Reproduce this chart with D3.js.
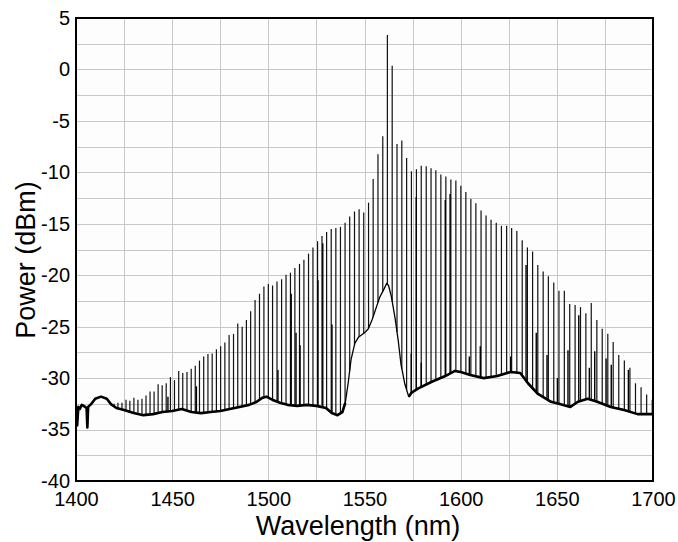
<!DOCTYPE html>
<html>
<head>
<meta charset="utf-8">
<script src="https://cdn.jsdelivr.net/npm/d3@7/dist/d3.min.js"></script>
<style>
    body { margin: 0; background: #ffffff; }
    text { font-family: Arial, "Liberation Sans", sans-serif; fill: #000; }
</style>
</head>
<body>
<div id="visualization"></div>
<script>

// Tick labels
const xTicks = [1400, 1450, 1500, 1550, 1600, 1650, 1700];
const yTicks = [-40, -35, -30, -25, -20, -15, -10, -5, 0, 5];

// Noise floor of the spectrum (nm, dBm)
const floorWl = [1400, 1400.6, 1401.2, 1402, 1403, 1404, 1405.5, 1405.9, 1406.3, 1408, 1410, 1413,
    1416, 1418, 1421, 1425, 1430, 1435, 1440, 1445, 1450, 1455, 1460, 1465, 1470, 1475,
    1480, 1485, 1490, 1494, 1497, 1499, 1502, 1506, 1510, 1515, 1520, 1525, 1530, 1533,
    1536, 1538.5, 1540, 1541.5, 1543, 1545, 1547, 1550, 1552, 1554, 1556, 1558, 1560,
    1561.5, 1562.5, 1564, 1566, 1567.5, 1569, 1571, 1573, 1574.5, 1578, 1585, 1592, 1597,
    1600, 1605, 1612, 1619, 1626, 1631, 1635, 1640, 1647, 1652, 1657, 1661, 1666, 1671,
    1678, 1685, 1692, 1700];
const floorDbm = [-33.2, -34.6, -32.8, -33.0, -32.6, -32.7, -32.9, -34.8, -32.8, -32.5, -32.0, -31.8,
    -32.0, -32.5, -32.9, -33.1, -33.4, -33.6, -33.5, -33.3, -33.2, -33.0, -33.3, -33.4, -33.3, -33.2,
    -33.0, -32.8, -32.6, -32.3, -31.9, -31.8, -32.1, -32.4, -32.6, -32.7, -32.6, -32.7, -32.9, -33.4,
    -33.6, -33.3, -32.4, -30.5, -28.2, -26.6, -26.0, -25.6, -25.2, -24.3, -23.2, -22.1, -21.4,
    -20.8, -21.0, -22.1, -24.3, -26.3, -28.7, -30.6, -31.8, -31.4, -31.0, -30.35, -29.8, -29.3,
    -29.4, -29.7, -30.0, -29.8, -29.4, -29.5, -30.5, -31.5, -32.3, -32.55, -32.8, -32.3, -32.0, -32.3,
    -32.8, -33.1, -33.5, -33.5];

// Comb lines: wavelength (nm) and peak power (dBm)
const combWl = [1417.7, 1419.8, 1421.8, 1423.9, 1426.0, 1428.0, 1430.1, 1432.2, 1434.3, 1436.4,
    1438.5, 1440.6, 1442.7, 1444.8, 1446.9, 1449.1, 1451.2, 1453.4, 1455.5, 1457.7,
    1459.9, 1462.0, 1464.2, 1466.4, 1468.6, 1470.8, 1473.0, 1475.2, 1477.4, 1479.6,
    1481.9, 1484.1, 1486.4, 1488.6, 1490.8, 1493.1, 1495.4, 1497.7, 1500.0, 1502.2,
    1504.5, 1506.9, 1509.2, 1511.5, 1513.8, 1516.2, 1518.5, 1520.9, 1523.2, 1525.6,
    1527.9, 1530.3, 1532.7, 1535.1, 1537.5, 1539.9, 1542.3, 1544.8, 1547.2, 1549.6,
    1552.1, 1554.5, 1557.0, 1559.5, 1561.9, 1564.4, 1566.9, 1569.4, 1571.9, 1574.4,
    1577.0, 1579.5, 1582.1, 1584.6, 1587.1, 1589.7, 1592.3, 1594.9, 1597.5, 1600.1,
    1602.7, 1605.3, 1607.9, 1610.6, 1613.2, 1615.8, 1618.5, 1621.2, 1623.9, 1626.5,
    1629.2, 1632.0, 1634.7, 1637.4, 1640.1, 1642.9, 1645.6, 1648.4, 1651.1, 1653.9,
    1656.7, 1659.5, 1662.3, 1665.1, 1667.9, 1670.8, 1673.6, 1676.5, 1679.3, 1682.2,
    1685.1, 1688.0, 1690.9, 1693.8, 1696.7, 1699.6];
const combPeak = [-32.3, -32.5, -32.4, -32.4, -32.1, -32.2, -31.9, -32.1, -32.0, -31.7,
    -31.3, -31.3, -30.6, -30.7, -30.5, -29.9, -30.2, -29.3, -29.5, -29.4,
    -29.1, -28.8, -28.3, -27.9, -27.65, -27.6, -27.2, -26.9, -26.55, -25.8,
    -25.7, -24.7, -25.0, -24.35, -23.5, -22.4, -21.8, -21.1, -20.85, -21.0,
    -20.6, -20.4, -19.95, -19.75, -19.3, -18.9, -18.5, -17.9, -17.3, -16.7,
    -16.2, -15.8, -15.5, -15.4, -15.3, -14.9, -14.3, -13.8, -13.6, -13.9,
    -12.95, -10.65, -8.25, -6.5, 3.35, 0.37, -7.25, -6.9, -8.6, -9.9,
    -9.7, -9.35, -9.4, -9.6, -9.8, -10.2, -10.4, -10.7, -10.8, -11.3,
    -11.9, -12.6, -13.0, -13.7, -14.2, -14.6, -14.9, -15.2, -15.2, -15.4,
    -15.7, -16.6, -17.3, -17.7, -19.0, -19.65, -20.1, -20.7, -21.5, -21.5,
    -22.8, -22.9, -23.1, -23.7, -22.7, -24.35, -25.2, -25.7, -26.5, -27.75,
    -28.3, -29.0, -30.5, -30.9, -31.6, -32.1];

// Weaker side lines next to some comb lines
const sideWl = [1447.8, 1462.6, 1505.0, 1511.9, 1514.4, 1516.5, 1525.8, 1528.3, 1533.1, 1574.3,
    1576.9, 1579.5, 1592.0, 1594.5, 1604.5, 1610.2, 1626.0, 1634.0, 1639.3, 1644.9,
    1650.3, 1655.8, 1661.4, 1666.9, 1669.7, 1675.6, 1678.3, 1687.2];
const sidePeak = [-31.8, -30.8, -29.2, -21.8, -25.6, -26.8, -20.5, -16.9, -24.8, -27.6,
    -12.4, -28.5, -12.7, -12.1, -27.9, -26.9, -27.9, -19.0, -25.6, -27.75,
    -30.0, -27.3, -23.9, -29.0, -27.4, -28.1, -28.7, -29.2];


const width = 678;
const height = 542;
const plotLeft = 76, plotRight = 653, plotTop = 18, plotBottom = 481;

const svg = d3.select("#visualization")
    .append("svg")
    .attr("width", width)
    .attr("height", height);

const xScale = d3.scaleLinear().domain([1400, 1700]).range([plotLeft, plotRight]);
const yScale = d3.scaleLinear().domain([-40, 5]).range([plotBottom, plotTop]);

// floor level at any wavelength (piecewise linear through the read points)
const floorAt = d3.scaleLinear().domain(floorWl).range(floorDbm);

// Plot background
svg.append("rect")
    .attr("x", plotLeft).attr("y", plotTop)
    .attr("width", plotRight - plotLeft).attr("height", plotBottom - plotTop)
    .attr("fill", "#fdfdfd");

// Grid lines
const grid = svg.append("g").attr("stroke", "#c8c8c8").attr("stroke-width", 1);
grid.selectAll("line.v")
    .data(d3.range(1425, 1700, 25))
    .enter().append("line")
    .attr("x1", d => Math.round(xScale(d)) + 0.5)
    .attr("x2", d => Math.round(xScale(d)) + 0.5)
    .attr("y1", plotTop).attr("y2", plotBottom);
grid.selectAll("line.h")
    .data(d3.range(-37.5, 5, 2.5))
    .enter().append("line")
    .attr("y1", d => Math.round(yScale(d)) + 0.5)
    .attr("y2", d => Math.round(yScale(d)) + 0.5)
    .attr("x1", plotLeft).attr("x2", plotRight);

svg.append("clipPath").attr("id", "plotClip")
    .append("rect")
    .attr("x", plotLeft).attr("y", plotTop)
    .attr("width", plotRight - plotLeft).attr("height", plotBottom - plotTop);

const plot = svg.append("g").attr("clip-path", "url(#plotClip)");

// Comb lines
plot.selectAll("line.comb")
    .data(combWl)
    .enter().append("line")
    .attr("x1", d => xScale(d))
    .attr("x2", d => xScale(d))
    .attr("y1", d => yScale(floorAt(d)))
    .attr("y2", (d, i) => yScale(combPeak[i]))
    .attr("stroke", "#111")
    .attr("stroke-width", 1.2);

plot.selectAll("line.side")
    .data(sideWl)
    .enter().append("line")
    .attr("x1", d => xScale(d))
    .attr("x2", d => xScale(d))
    .attr("y1", d => yScale(floorAt(d)))
    .attr("y2", (d, i) => yScale(sidePeak[i]))
    .attr("stroke", "#000")
    .attr("stroke-width", 1.4);

// Noise floor
const floorPts = floorWl.map((w, i) => [w, floorDbm[i]]);
const line = d3.line()
    .x(d => xScale(d[0]))
    .y(d => yScale(d[1]));

plot.append("path")
    .attr("d", line(floorPts))
    .attr("fill", "none")
    .attr("stroke", "#000")
    .attr("stroke-width", 1.3)
    .attr("stroke-linejoin", "round");

// noisy parts of the floor look thicker
[floorPts.filter(d => d[0] <= 1540), floorPts.filter(d => d[0] >= 1573)].forEach(seg => {
    plot.append("path")
        .attr("d", line(seg))
        .attr("fill", "none")
        .attr("stroke", "#000")
        .attr("stroke-width", 2.6)
        .attr("stroke-linejoin", "round");
});

// Frame
svg.append("rect")
    .attr("x", plotLeft).attr("y", plotTop)
    .attr("width", plotRight - plotLeft).attr("height", plotBottom - plotTop)
    .attr("fill", "none")
    .attr("stroke", "#000")
    .attr("stroke-width", 2);

// Axes (labels only), plain hyphen minus like the original
svg.append("g")
    .attr("transform", "translate(0," + plotBottom + ")")
    .call(d3.axisBottom(xScale).tickValues(xTicks).tickSize(0).tickPadding(11).tickFormat(d => String(d)))
    .call(g => g.select(".domain").remove())
    .selectAll("text")
    .style("font-size", "20px");

svg.append("g")
    .attr("transform", "translate(" + plotLeft + ",0)")
    .call(d3.axisLeft(yScale).tickValues(yTicks).tickSize(0).tickPadding(6).tickFormat(d => String(d)))
    .call(g => g.select(".domain").remove())
    .selectAll("text")
    .style("font-size", "20px");

// Axis titles
svg.append("text")
    .attr("x", 358)
    .attr("y", 535)
    .attr("text-anchor", "middle")
    .style("font-size", "27px")
    .text("Wavelength (nm)");

svg.append("text")
    .attr("transform", "translate(35,260) rotate(-90)")
    .attr("text-anchor", "middle")
    .style("font-size", "27px")
    .text("Power (dBm)");

</script>
</body>
</html>
